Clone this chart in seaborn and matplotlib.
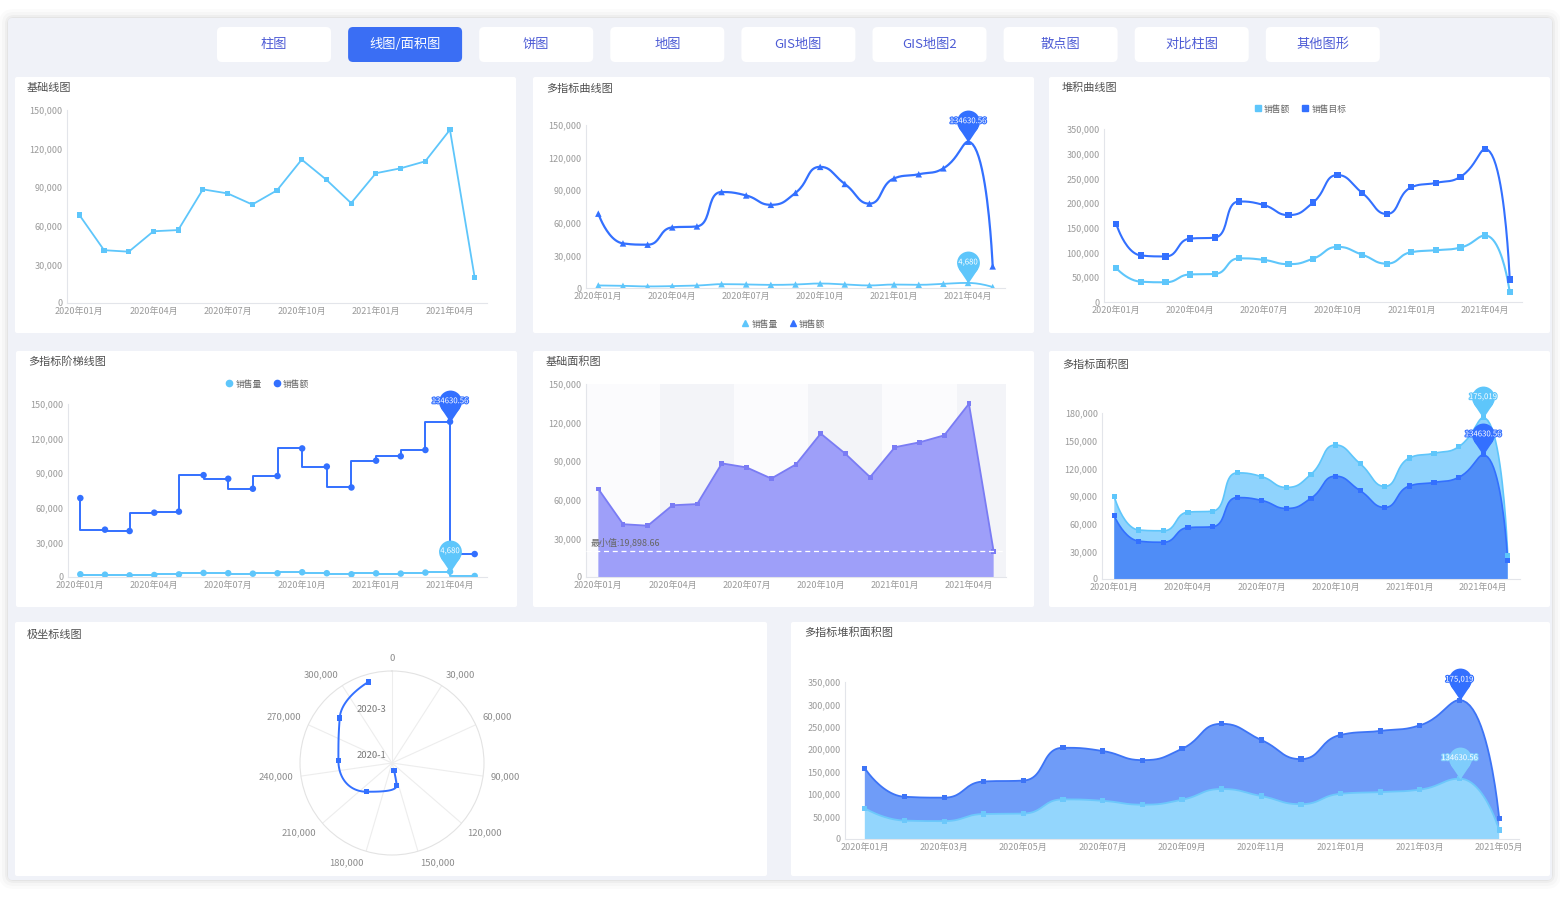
import numpy as np
import matplotlib
matplotlib.use("Agg")
import matplotlib.pyplot as plt
import matplotlib.patheffects as pe
import seaborn as sns
from matplotlib.patches import FancyBboxPatch
from matplotlib.path import Path
from matplotlib.lines import Line2D
from matplotlib.ticker import FuncFormatter

# ------------------------------------------------------------------
# data
# ------------------------------------------------------------------
months = ['2020年01月', '2020年02月', '2020年03月', '2020年04月', '2020年05月',
          '2020年06月', '2020年07月', '2020年08月', '2020年09月', '2020年10月',
          '2020年11月', '2020年12月', '2021年01月', '2021年02月', '2021年03月',
          '2021年04月', '2021年05月']
sales = [68420, 41050, 39870, 55760, 56690, 88320, 85170, 76540, 87560,
         111480, 95760, 77630, 100860, 104680, 110120, 134630.56, 19898.66]
volume = [2350, 2010, 1450, 1720, 2260, 3520, 3310, 2890, 3240,
          4120, 3280, 2370, 3180, 2950, 3830, 4680, 880]
target = [89200, 53100, 52300, 72500, 73600, 115100, 111000, 99300, 113600,
          145300, 125000, 100500, 131200, 136300, 143300, 175019, 25700]

polar_values = [150500, 154500, 203000, 250000, 284800, 315000]
polar_ticks = [0, 30000, 60000, 90000, 120000, 150000, 180000, 210000, 240000, 270000, 300000]
polar_max = 330000
polar_tick_idx = [0, 3]
polar_tick_labels = ['2020-1', '2020-3']

tabs = ['柱图', '线图/面积图', '饼图', '地图', 'GIS地图', 'GIS地图2', '散点图', '对比柱图', '其他图形']
active_tab = 1

# colours
LIGHT = '#5ec6fb'
DARK = '#3370ff'
PURPLE_LINE = '#7a7cf4'
PURPLE_FILL = '#9e9ff9'
TICK = '#9a9a9a'

W, H = 1560, 900
sns.set_theme(style="white")
plt.rcParams['font.family'] = ['Noto Sans CJK SC', 'DejaVu Sans']
plt.rcParams['axes.unicode_minus'] = False

fig = plt.figure(figsize=(W / 100, H / 100), dpi=100, facecolor='white')
bg = fig.add_axes([0, 0, 1, 1], zorder=-10)
bg.set_xlim(0, W)
bg.set_ylim(H, 0)
bg.axis('off')


def rbox(x0, y0, x1, y1, color, r=0, **kw):
    bg.add_patch(FancyBboxPatch((x0, y0), x1 - x0, y1 - y0,
                                boxstyle=f"round,pad=0,rounding_size={r}",
                                fc=color, ec='none', **kw))


def frac(x0, y0, x1, y1):
    return [x0 / W, 1 - y1 / H, (x1 - x0) / W, (y1 - y0) / H]


# echarts style smoothing (bezier with clamped control points, pixel space)
def ec_smooth(xs, ys, sx, sy, smooth=0.5, steps=24):
    px = np.asarray(xs, float) * sx
    py = np.asarray(ys, float) * sy
    n = len(px)
    out_x, out_y = [px[0]], [py[0]]
    cpx0, cpy0 = px[0], py[0]
    t = np.linspace(0, 1, steps)[1:]
    for i in range(1, n):
        x, y = px[i], py[i]
        prev_x, prev_y = px[i - 1], py[i - 1]
        if i == n - 1:
            cpx1, cpy1 = x, y
            ncx, ncy = x, y
        else:
            next_x, next_y = px[i + 1], py[i + 1]
            vx, vy = next_x - prev_x, next_y - prev_y
            lp = np.hypot(x - prev_x, y - prev_y)
            ln = np.hypot(next_x - x, next_y - y)
            ratio = ln / (ln + lp)
            ncx = x + vx * smooth * ratio
            ncy = y + vy * smooth * ratio
            ncx = max(min(ncx, max(next_x, x)), min(next_x, x))
            ncy = max(min(ncy, max(next_y, y)), min(next_y, y))
            vx, vy = ncx - x, ncy - y
            cpx1 = x - vx * lp / ln
            cpy1 = y - vy * lp / ln
            cpx1 = max(min(cpx1, max(prev_x, x)), min(prev_x, x))
            cpy1 = max(min(cpy1, max(prev_y, y)), min(prev_y, y))
            vx, vy = x - cpx1, y - cpy1
            ncx = x + vx * ln / lp
            ncy = y + vy * ln / lp
        bx = (1 - t) ** 3 * prev_x + 3 * (1 - t) ** 2 * t * cpx0 + 3 * (1 - t) * t ** 2 * cpx1 + t ** 3 * x
        by = (1 - t) ** 3 * prev_y + 3 * (1 - t) ** 2 * t * cpy0 + 3 * (1 - t) * t ** 2 * cpy1 + t ** 3 * y
        out_x.extend(bx)
        out_y.extend(by)
        cpx0, cpy0 = ncx, ncy
    return np.array(out_x) / sx, np.array(out_y) / sy


# pin marker (balloon with pointed tip at the data point)
_c = Path.unit_circle()
_circle = Path(_c.vertices + [0, 1.8], _c.codes)
_tri = Path([(-0.832, 1.245), (0, 0), (0.832, 1.245), (-0.832, 1.245)],
            [Path.MOVETO, Path.LINETO, Path.LINETO, Path.CLOSEPOLY])
PIN = Path.make_compound_path(_circle, _tri)


def pin(ax, x, y, color, label, ms=46):
    ax.plot([x], [y], marker=PIN, markersize=ms, color=color, ls='none',
            mew=0, zorder=8, clip_on=False)
    ax.annotate(label, (x, y), xytext=(0, ms * 0.321), textcoords='offset points',
                ha='center', va='center', color='white', fontsize=5.6, zorder=9,
                annotation_clip=False,
                path_effects=[pe.withStroke(linewidth=1.6, foreground=color)])


def legend(ax, items, cx, cy, marker):
    handles = [Line2D([], [], ls='none', marker=marker, color=c, markersize=4.5) for c, _ in items]
    ax.legend(handles, [t for _, t in items], loc='center', bbox_to_anchor=(cx, cy),
              bbox_transform=bg.transData, ncol=len(items), frameon=False, fontsize=6.3,
              handletextpad=0.2, columnspacing=1.2, labelcolor='#666666', handlelength=1)


def style(ax, ymax, ystep, every=3):
    ax.set_facecolor('none')
    ax.set_xlim(-0.5, len(months) - 0.5)
    ax.set_ylim(0, ymax)
    ax.set_yticks(np.arange(0, ymax + 1, ystep))
    ax.yaxis.set_major_formatter(FuncFormatter(lambda v, p: f'{v:,.0f}'))
    ax.set_xticks(range(0, len(months), every))
    ax.set_xticklabels(months[::every])
    sns.despine(ax=ax)
    for s in ['left', 'bottom']:
        ax.spines[s].set_color('#e3e5ea')
        ax.spines[s].set_linewidth(0.8)
    ax.tick_params(length=0, labelsize=6.5, colors=TICK, pad=3)
    ax.grid(False)
    ax.set_xlabel('')
    ax.set_ylabel('')


def scales(rect, ymax):
    x0, y0, x1, y1 = rect
    return (x1 - x0) / len(months), (y1 - y0) / ymax


# ------------------------------------------------------------------
# frame, tabs, panels
# ------------------------------------------------------------------
for k, a in [(9, 0.015), (6, 0.02), (3, 0.03), (1, 0.04)]:
    rbox(8 - k, 18 - k, 1552 + k, 880 + k, 'black', r=6 + k, alpha=a)
rbox(8, 18, 1552, 880, '#f0f2f8', r=4)

for i, name in enumerate(tabs):
    x0 = 217 + i * 131.1
    on = i == active_tab
    rbox(x0, 27, x0 + 114, 62, '#3a6ef4' if on else 'white', r=5)
    bg.text(x0 + 57, 44.5, name, ha='center', va='center', fontsize=9.5,
            color='white' if on else '#4d5bd5')

panels = [(15, 77, 516, 333), (533, 77, 1034, 333), (1049, 77, 1550, 333),
          (16, 351, 517, 607), (533, 351, 1034, 607), (1049, 351, 1550, 607),
          (15, 622, 767, 876), (791, 622, 1550, 876)]
for p in panels:
    rbox(*p, 'white', r=2)

titles = [('基础线图', 27, 88), ('多指标曲线图', 546, 89), ('堆积曲线图', 1062, 88),
          ('多指标阶梯线图', 28, 362), ('基础面积图', 546, 362), ('多指标面积图', 1062, 365),
          ('极坐标线图', 27, 635), ('多指标堆积面积图', 804, 633)]
for t, x, y in titles:
    bg.text(x, y, t, ha='left', va='center', fontsize=8, color='#505050')

idx = np.arange(len(months))
stack_top = np.array(sales) + np.array(target)

# ------------------------------------------------------------------
# 1. 基础线图
# ------------------------------------------------------------------
r1 = (67, 110, 487, 303)
ax1 = fig.add_axes(frac(*r1))
sns.lineplot(x=idx, y=sales, ax=ax1, color=LIGHT, lw=1.3)
sns.scatterplot(x=idx, y=sales, ax=ax1, color=LIGHT, marker='s', s=14, edgecolor='none', zorder=3)
style(ax1, 150000, 30000)

# ------------------------------------------------------------------
# 2. 多指标曲线图
# ------------------------------------------------------------------
r2 = (586, 125, 1005, 288)
ax2 = fig.add_axes(frac(*r2))
sx, sy = scales(r2, 150000)
for vals, col, lw in [(volume, LIGHT, 1.3), (sales, DARK, 1.6)]:
    xs, ys = ec_smooth(idx, vals, sx, sy)
    sns.lineplot(x=xs, y=ys, ax=ax2, color=col, lw=lw, sort=False, estimator=None)
    sns.scatterplot(x=idx, y=vals, ax=ax2, color=col, marker='^', s=22, edgecolor='none', zorder=3)
style(ax2, 150000, 30000)
pin(ax2, 15, sales[15], DARK, f'{sales[15]}')
pin(ax2, 15, volume[15], LIGHT, f'{volume[15]:,}')
legend(ax2, [(LIGHT, '销售量'), (DARK, '销售额')], 783, 324, '^')

# ------------------------------------------------------------------
# 3. 堆积曲线图
# ------------------------------------------------------------------
r3 = (1104, 129, 1522, 302)
ax3 = fig.add_axes(frac(*r3))
sx, sy = scales(r3, 350000)
for vals, col in [(sales, LIGHT), (stack_top, DARK)]:
    xs, ys = ec_smooth(idx, vals, sx, sy)
    sns.lineplot(x=xs, y=ys, ax=ax3, color=col, lw=1.5, sort=False, estimator=None)
    sns.scatterplot(x=idx, y=vals, ax=ax3, color=col, marker='s', s=20, edgecolor='none', zorder=3)
style(ax3, 350000, 50000)
legend(ax3, [(LIGHT, '销售额'), (DARK, '销售目标')], 1300, 109, 's')

# ------------------------------------------------------------------
# 4. 多指标阶梯线图
# ------------------------------------------------------------------
r4 = (68, 404, 487, 577)
ax4 = fig.add_axes(frac(*r4))
for vals, col in [(volume, LIGHT), (sales, DARK)]:
    sns.lineplot(x=idx, y=vals, ax=ax4, color=col, lw=1.4, drawstyle='steps-pre')
    sns.scatterplot(x=idx, y=vals, ax=ax4, color=col, marker='o', s=22, edgecolor='none', zorder=3)
style(ax4, 150000, 30000)
pin(ax4, 15, sales[15], DARK, f'{sales[15]}')
pin(ax4, 15, volume[15], LIGHT, f'{volume[15]:,}')
legend(ax4, [(LIGHT, '销售量'), (DARK, '销售额')], 267, 384, 'o')

# ------------------------------------------------------------------
# 5. 基础面积图
# ------------------------------------------------------------------
r5 = (586, 384, 1006, 577)
ax5 = fig.add_axes(frac(*r5))
edges = [-0.5, 2.5, 5.5, 8.5, 11.5, 14.5, 16.5]
for j in range(len(edges) - 1):
    ax5.axvspan(edges[j], edges[j + 1], color='#f3f4f8' if j % 2 else '#fbfbfd', lw=0, zorder=0)
ax5.fill(np.concatenate([idx, [idx[-1], idx[0]]]), np.concatenate([sales, [0, 0]]),
         color=PURPLE_FILL, lw=0, zorder=1)
sns.lineplot(x=idx, y=sales, ax=ax5, color=PURPLE_LINE, lw=1.3)
sns.scatterplot(x=idx, y=sales, ax=ax5, color=PURPLE_LINE, marker='s', s=12, edgecolor='none', zorder=3)
min_v = min(sales)
ax5.axhline(min_v, color='white', ls=(0, (4, 3)), lw=0.9, zorder=4)
ax5.annotate(f'最小值:{min_v:,.2f}', (-0.5, min_v), xytext=(3, 6.5), textcoords='offset points',
             ha='left', va='center', fontsize=6.5, color='#666666', zorder=5)
style(ax5, 150000, 30000)

# ------------------------------------------------------------------
# 6. 多指标面积图
# ------------------------------------------------------------------
r6 = (1102, 413, 1520, 579)
ax6 = fig.add_axes(frac(*r6))
sx, sy = scales(r6, 180000)
for vals, fill_c, line_c in [(target, '#8fd3fd', LIGHT), (sales, '#4f8df7', DARK)]:
    xs, ys = ec_smooth(idx, vals, sx, sy)
    ax6.fill(np.concatenate([xs, [xs[-1], xs[0]]]), np.concatenate([ys, [0, 0]]),
             color=fill_c, lw=0, zorder=1)
    sns.lineplot(x=xs, y=ys, ax=ax6, color=line_c, lw=1.2, sort=False, estimator=None)
    sns.scatterplot(x=idx, y=vals, ax=ax6, color=line_c, marker='s', s=14, edgecolor='none', zorder=3)
style(ax6, 180000, 30000)
pin(ax6, 15, target[15], LIGHT, f'{target[15]:,}')
pin(ax6, 15, sales[15], DARK, f'{sales[15]}')

# ------------------------------------------------------------------
# 7. 极坐标线图
# ------------------------------------------------------------------
axp = fig.add_axes(frac(300, 671, 484, 855), projection='polar')
axp.set_facecolor('none')
axp.set_theta_zero_location('N')
axp.set_theta_direction(-1)
theta = np.array(polar_values) / polar_max * 2 * np.pi
rad = np.arange(len(polar_values)) + 0.5
cx, cy = rad * np.sin(theta), rad * np.cos(theta)
px_per_r = 92 / len(polar_values)
sxs, sys_ = ec_smooth(cx, cy, px_per_r, px_per_r)
th_s = np.unwrap(np.arctan2(sxs, sys_))
r_s = np.hypot(sxs, sys_)
sns.lineplot(x=th_s, y=r_s, ax=axp, color=DARK, lw=1.4, sort=False, estimator=None)
sns.scatterplot(x=theta, y=rad, ax=axp, color=DARK, marker='s', s=14, edgecolor='none', zorder=3)
axp.set_rlim(0, len(polar_values))
axp.set_yticks([])
tick_th = np.array(polar_ticks) / polar_max * 2 * np.pi
axp.set_xticks(tick_th)
axp.set_xticklabels([])
axp.tick_params(axis='x', length=0)
axp.xaxis.grid(True, color='#ededed', lw=0.8)
axp.spines['polar'].set_color('#e3e3e3')
axp.spines['polar'].set_linewidth(0.8)
axp.set_xlabel('')
axp.set_ylabel('')
# angle labels placed just outside the ring, aligned by side
for th, v in zip(tick_th, polar_ticks):
    s, c = np.sin(th), np.cos(th)
    ha = 'center' if abs(s) < 0.05 else ('left' if s > 0 else 'right')
    va = 'center' if abs(c) < 0.3 else ('bottom' if c > 0 else 'top')
    axp.annotate(f'{v:,}', (th, len(polar_values)), xytext=(5.5 * s, 5.5 * c),
                 textcoords='offset points', ha=ha, va=va, fontsize=6.8,
                 color='#8c8c8c', annotation_clip=False)
for i, lab in zip(polar_tick_idx, polar_tick_labels):
    axp.annotate(lab, (0, i + 0.5), xytext=(-4, 0), textcoords='offset points',
                 ha='right', va='center', fontsize=6.8, color='#777777')

# ------------------------------------------------------------------
# 8. 多指标堆积面积图
# ------------------------------------------------------------------
r8 = (845, 682, 1519, 839)
ax8 = fig.add_axes(frac(*r8))
sx, sy = scales(r8, 350000)
bx_, by_ = ec_smooth(idx, sales, sx, sy)
tx_, ty_ = ec_smooth(idx, stack_top, sx, sy)
ax8.fill(np.concatenate([tx_, bx_[::-1]]), np.concatenate([ty_, by_[::-1]]),
         color='#6f9cf8', lw=0, zorder=1)
ax8.fill(np.concatenate([bx_, [bx_[-1], bx_[0]]]), np.concatenate([by_, [0, 0]]),
         color='#93d6fd', lw=0, zorder=1)
sns.lineplot(x=tx_, y=ty_, ax=ax8, color='#3d74f6', lw=1.3, sort=False, estimator=None)
sns.lineplot(x=bx_, y=by_, ax=ax8, color='#6cc8fb', lw=1.3, sort=False, estimator=None)
sns.scatterplot(x=idx, y=stack_top, ax=ax8, color='#3d74f6', marker='s', s=14, edgecolor='none', zorder=3)
sns.scatterplot(x=idx, y=sales, ax=ax8, color='#6cc8fb', marker='s', s=14, edgecolor='none', zorder=3)
style(ax8, 350000, 50000, every=2)
pin(ax8, 15, stack_top[15], DARK, f'{target[15]:,}')
pin(ax8, 15, sales[15], '#7fcdfc', f'{sales[15]}')

fig.savefig('out.png', dpi=100, facecolor='white')
